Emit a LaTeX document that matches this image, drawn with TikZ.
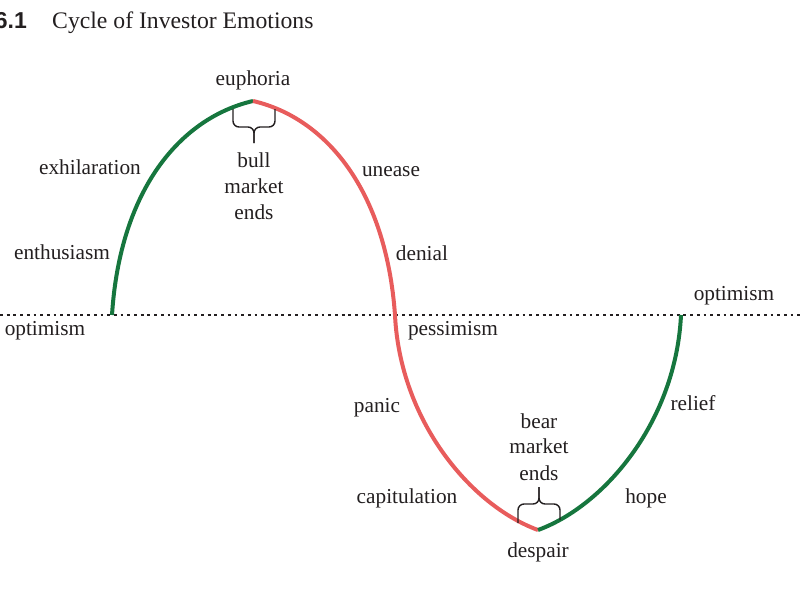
\documentclass[tikz,border=0pt]{standalone}
\usepackage{fontspec}
\setmainfont{Liberation Serif}
\newfontfamily\titlesans{Liberation Sans}
\definecolor{bullgreen}{RGB}{22,118,62}
\definecolor{bearred}{RGB}{232,92,92}
\definecolor{ink}{RGB}{35,31,32}
\begin{document}
\begin{tikzpicture}[x=1pt,y=-1pt,
  lbl/.style={anchor=base,inner sep=0pt,text=ink,font=\fontsize{21.3}{24}\selectfont},
  stack/.style={lbl,align=center},
  upcurve/.style={line width=4pt,bullgreen},
  downcurve/.style={line width=4pt,bearred},
  bracepath/.style={line width=1.4pt,ink,rounded corners=6pt},
  axis/.style={line width=1.5pt,ink,dash pattern=on 2.8pt off 3.9pt}]
\useasboundingbox (0,0) rectangle (800,600);
% title
\node[anchor=base east,inner sep=0pt,text=ink,font=\titlesans\bfseries\fontsize{23}{26}\selectfont] (num) at (27,28) {6.1};
\node[anchor=base west,inner sep=0pt,text=ink,font=\fontsize{23.7}{26}\selectfont] (title) at (52,28) {Cycle of Investor Emotions};
% axis
\coordinate (axl) at (0,315);
\coordinate (axr) at (800,315);
\draw[axis] (axl) -- (axr);
% curve points
\coordinate (s1) at (112,315);
\coordinate (pk) at (253,101);
\coordinate (xc) at (395,315);
\coordinate (bt) at (538,530);
\coordinate (e1) at (681,315);
\draw[upcurve] (s1) .. controls (120,190) and (180,118) .. (pk);
\draw[downcurve] (pk) .. controls (326,118) and (386,190) .. (xc);
\draw[downcurve] (xc) .. controls (400,420) and (470,505) .. (bt);
\draw[upcurve] (bt) .. controls (606,505) and (676,420) .. (e1);
% braces
\coordinate (b1l) at (233,109);
\coordinate (b1r) at (275,109);
\coordinate (b1m) at (254,127);
\coordinate (b1t) at (254,143);
\draw[bracepath] (b1l) |- (b1m) -- (b1t);
\draw[bracepath] (b1r) |- (b1m) -- (b1t);
\coordinate (b2l) at (518,523);
\coordinate (b2r) at (560,520);
\coordinate (b2m) at (539,504);
\coordinate (b2t) at (539,487);
\draw[bracepath] (b2l) |- (b2m) -- (b2t);
\draw[bracepath] (b2r) |- (b2m) -- (b2t);
% labels
\node[lbl] (euph) at (253,85) {euphoria};
\node[lbl] (exhil) at (90,174) {exhilaration};
\node[lbl] (enth) at (62,259) {enthusiasm};
\node[lbl] (optl) at (45,335) {optimism};
\node[lbl] (bull1) at (254,167) {bull};
\node[lbl] (bull2) at (254,193) {market};
\node[lbl] (bull3) at (254,219) {ends};
\node[lbl] (unease) at (391,176) {unease};
\node[lbl] (denial) at (422,260) {denial};
\node[lbl] (pess) at (453,335) {pessimism};
\node[lbl] (optr) at (734,300) {optimism};
\node[lbl] (panic) at (377,412) {panic};
\node[lbl] (relief) at (693,410) {relief};
\node[lbl] (bear1) at (539,428) {bear};
\node[lbl] (bear2) at (539,453) {market};
\node[lbl] (bear3) at (539,480) {ends};
\node[lbl] (capit) at (407,503) {capitulation};
\node[lbl] (hope) at (646,503) {hope};
\node[lbl] (despair) at (538,557) {despair};
\end{tikzpicture}
\end{document}
